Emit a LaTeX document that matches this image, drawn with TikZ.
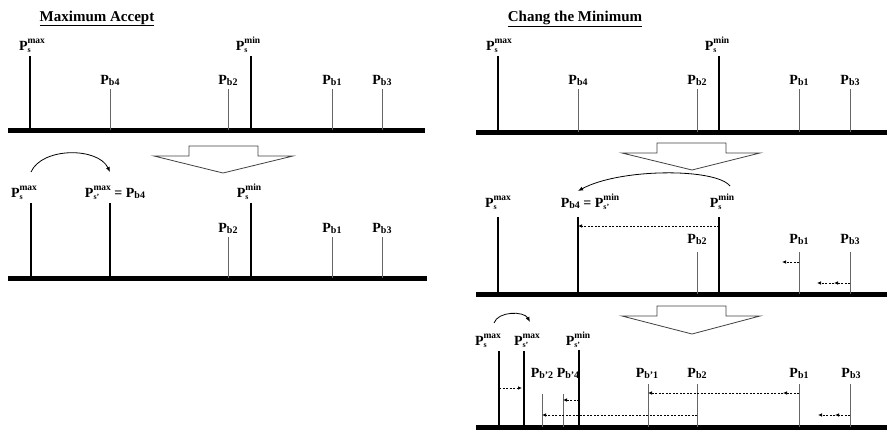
\documentclass[tikz,border=0pt]{standalone}
\usepackage{fontspec}
\setmainfont{Liberation Serif}
\usetikzlibrary{arrows.meta}

\newcommand{\ps}[2]{P\rlap{\raisebox{-0.4ex}{\fontsize{8}{8}\selectfont #1}}\raisebox{0.95ex}{\fontsize{9.5}{9.5}\selectfont #2}}
\newcommand{\pb}[1]{P\raisebox{-0.25ex}{\fontsize{10}{10}\selectfont b#1}}

\tikzset{
  axis/.style={line width=5pt},
  seller/.style={line width=2.2pt},
  buyer/.style={line width=0.9pt, black!60},
  lbl/.style={anchor=base, inner sep=0pt, font=\fontsize{14}{14}\selectfont\bfseries},
  ttl/.style={anchor=base, inner sep=0pt, font=\fontsize{15}{15}\selectfont\bfseries},
  move/.style={line width=0.7pt, dash pattern=on 2pt off 1.5pt, -{Latex[length=4pt,width=3.5pt]}},
  jump/.style={line width=0.8pt, -{Latex[length=5pt,width=4pt]}},
  bigarrow/.style={line width=0.8pt, black!75},
}

\begin{document}
\begin{tikzpicture}[x=1pt,y=-1pt]
    \useasboundingbox (0,0) rectangle (887,429);

    \node[ttl] (ttl-max) at (97,21) {\underline{Maximum Accept}};
    \node[ttl] (ttl-min) at (575,21) {\underline{Chang the Minimum}};

    % maximum accept, before
    \draw[axis] (8,130) -- (425,130);
    \draw[seller] (30,56) -- (30,130);
    \draw[seller] (251,56) -- (251,130);
    \foreach \x/\n in {110/4,228/2,332/1,382/3} {
        \draw[buyer] (\x,89) -- (\x,130);
        \node[lbl] (a-b\n) at (\x,84) {\pb{\n}};
    }
    \node[lbl] (a-smax) at (32,50) {\ps{s}{max}};
    \node[lbl] (a-smin) at (248,50) {\ps{s}{min}};

    \draw[bigarrow] (189,146) -- (258,146) -- (258,156) -- (293,156) -- (223,173) -- (154,156) -- (189,156) -- cycle;

    % maximum accept, after
    \draw[axis] (8,278) -- (427,278);
    \draw[seller] (31,203) -- (31,278);
    \draw[seller] (110,203) -- (110,278);
    \draw[seller] (251,203) -- (251,278);
    \foreach \x/\n in {228/2,332/1,382/3} {
        \draw[buyer] (\x,237) -- (\x,278);
        \node[lbl] (b-b\n) at (\x,232) {\pb{\n}};
    }
    \node[lbl] (b-smax) at (24,197) {\ps{s}{max}};
    \node[lbl] (b-snew) at (115,197) {\ps{s'}{max} = \pb{4}};
    \node[lbl] (b-smin) at (249,197) {\ps{s}{min}};
    \coordinate (b-from) at (31,172);
    \coordinate (b-to) at (110,172);
    \draw[jump] (b-from) .. controls (42,147) and (98,147) .. (b-to);

    % change the minimum, before
    \draw[axis] (476,132) -- (887,132);
    \draw[seller] (498,56) -- (498,132);
    \draw[seller] (719,56) -- (719,132);
    \foreach \x/\n in {578/4,697/2,799/1,850/3} {
        \draw[buyer] (\x,89) -- (\x,132);
        \node[lbl] (c-b\n) at (\x,84) {\pb{\n}};
    }
    \node[lbl] (c-smax) at (499,50) {\ps{s}{max}};
    \node[lbl] (c-smin) at (717,50) {\ps{s}{min}};

    \draw[bigarrow] (657,143) -- (726,143) -- (726,153) -- (760,153) -- (692,170) -- (622,153) -- (657,153) -- cycle;

    % change the minimum, step one
    \draw[axis] (476,294) -- (887,294);
    \draw[seller] (498,217) -- (498,294);
    \draw[seller] (578,217) -- (578,294);
    \draw[seller] (719,217) -- (719,294);
    \foreach \x/\n in {697/2,799/1,850/3} {
        \draw[buyer] (\x,252) -- (\x,294);
        \node[lbl] (d-b\n) at (\x,243) {\pb{\n}};
    }
    \node[lbl] (d-smax) at (498,207) {\ps{s}{max}};
    \node[lbl] (d-snew) at (590,207) {\pb{4} = \ps{s'}{min}};
    \node[lbl] (d-smin) at (722,207) {\ps{s}{min}};
    \coordinate (d-from) at (730,186);
    \coordinate (d-to) at (578,191);
    \draw[jump] (d-from) .. controls (716,168) and (620,168) .. (d-to);
    \coordinate (d-m1) at (719,226);
    \coordinate (d-m2) at (578,226);
    \draw[move] (d-m1) -- (d-m2);
    \coordinate (d-b1a) at (799,262);
    \coordinate (d-b1b) at (782,262);
    \draw[move] (d-b1a) -- (d-b1b);
    \coordinate (d-b3a) at (850,283);
    \coordinate (d-b3b) at (834,283);
    \coordinate (d-b3c) at (817,283);
    \draw[move] (d-b3a) -- (d-b3b);
    \draw[move] (d-b3b) -- (d-b3c);

    \draw[bigarrow] (657,306) -- (726,306) -- (726,316) -- (760,316) -- (692,334) -- (622,316) -- (657,316) -- cycle;

    % change the minimum, step two
    \draw[axis] (476,427) -- (887,427);
    \draw[seller] (499,351) -- (499,427);
    \draw[seller] (524,351) -- (524,427);
    \draw[seller] (579,350) -- (579,427);
    \foreach \x/\n in {542/2,563/4} \draw[buyer] (\x,394) -- (\x,427);
    \foreach \x/\n in {648/1,697/2,799/1,850/3} \draw[buyer] (\x,384) -- (\x,427);
    \node[lbl] (e-smax) at (488,345) {\ps{s}{max}};
    \node[lbl] (e-snmax) at (527,345) {\ps{s'}{max}};
    \node[lbl] (e-snmin) at (578,345) {\ps{s'}{min}};
    \node[lbl] (e-bn2) at (542,377) {\pb{'2}};
    \node[lbl] (e-bn4) at (568,377) {\pb{'4}};
    \node[lbl] (e-bn1) at (647,377) {\pb{'1}};
    \node[lbl] (e-b2) at (697,377) {\pb{2}};
    \node[lbl] (e-b1) at (799,377) {\pb{1}};
    \node[lbl] (e-b3) at (851,377) {\pb{3}};
    \coordinate (e-from) at (494,323);
    \coordinate (e-to) at (530,322);
    \draw[jump] (e-from) .. controls (498,311) and (524,311) .. (e-to);
    \coordinate (e-s1) at (499,388);
    \coordinate (e-s2) at (522,388);
    \draw[move] (e-s1) -- (e-s2);
    \coordinate (e-s3) at (579,400);
    \coordinate (e-s4) at (563,400);
    \draw[move] (e-s3) -- (e-s4);
    \coordinate (e-b1a) at (799,393);
    \coordinate (e-b1b) at (783,393);
    \coordinate (e-b1c) at (648,393);
    \draw[move] (e-b1a) -- (e-b1b);
    \draw[move] (e-b1b) -- (e-b1c);
    \coordinate (e-b2a) at (697,415);
    \coordinate (e-b2b) at (542,415);
    \draw[move] (e-b2a) -- (e-b2b);
    \coordinate (e-b3a) at (850,415);
    \coordinate (e-b3b) at (835,415);
    \coordinate (e-b3c) at (818,415);
    \draw[move] (e-b3a) -- (e-b3b);
    \draw[move] (e-b3b) -- (e-b3c);
\end{tikzpicture}
\end{document}
